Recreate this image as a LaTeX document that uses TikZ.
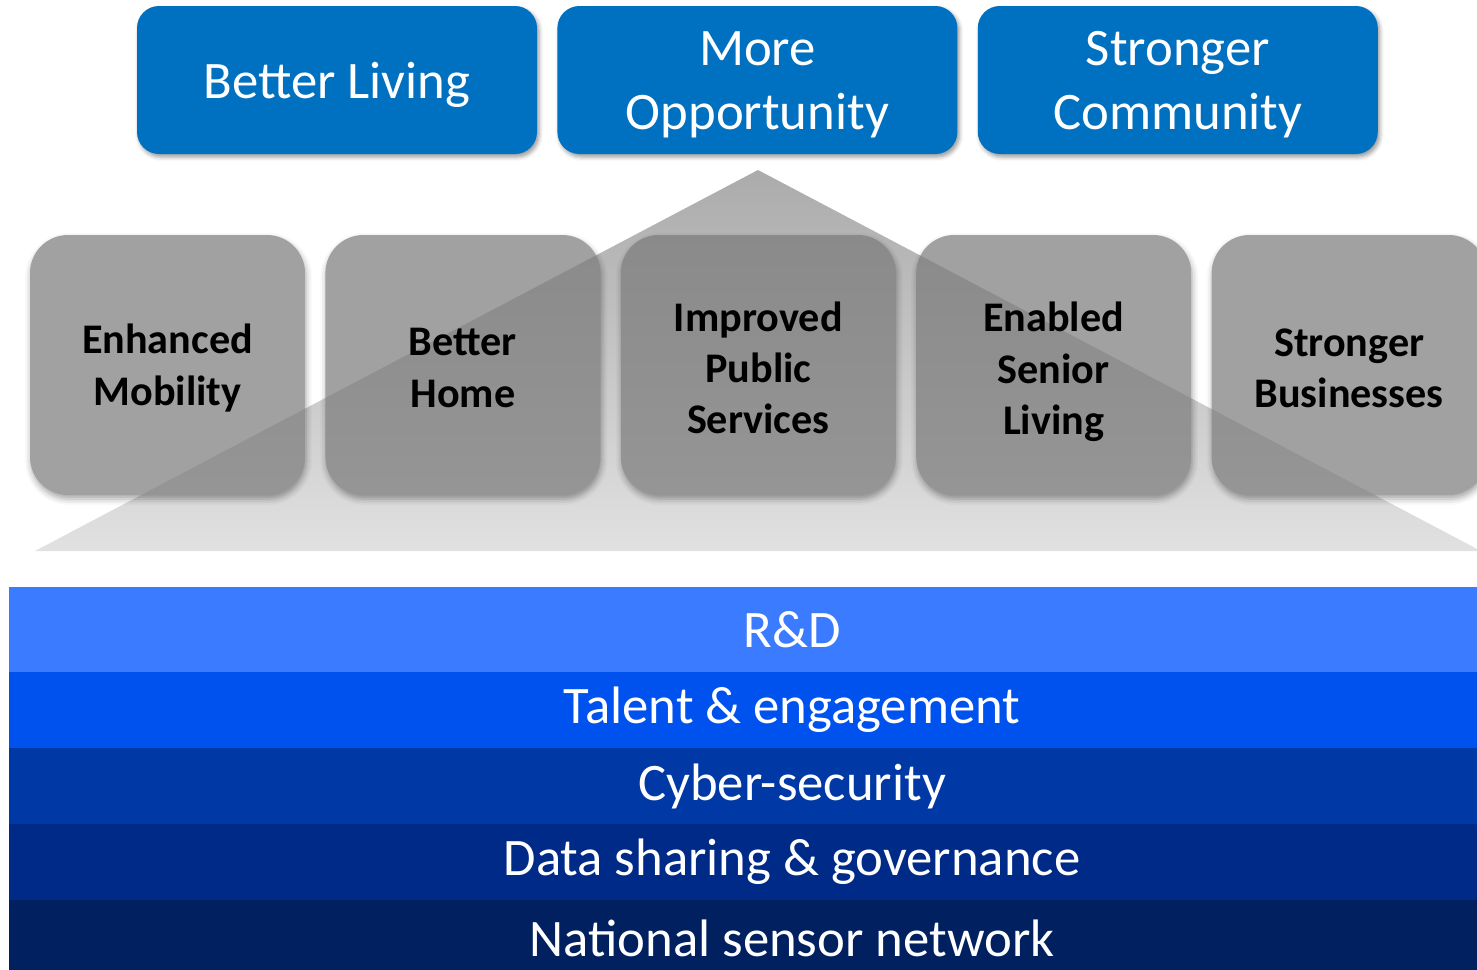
\documentclass[tikz,border=0pt]{standalone}
\usepackage{fontspec}
\setmainfont{Carlito}
\usepackage{tikz}
\usetikzlibrary{positioning, shadows.blur}
\definecolor{goalblue}{HTML}{0070C0}
\definecolor{pillargray}{HTML}{797979}
\definecolor{roofdark}{HTML}{ABABAB}
\definecolor{rooflight}{HTML}{E1E1E1}
\definecolor{layerA}{HTML}{3A7BFF}
\definecolor{layerB}{HTML}{0052EE}
\definecolor{layerC}{HTML}{0038A6}
\definecolor{layerD}{HTML}{002A87}
\definecolor{layerE}{HTML}{002060}
\tikzstyle{goal} = [rectangle, rounded corners=0.22cm, minimum width=4cm, minimum height=1.48cm, fill=goalblue, blur shadow={shadow xshift=0.02cm, shadow yshift=-0.03cm, shadow blur radius=0.04cm, shadow opacity=40}]
\tikzstyle{goaltext} = [text centered, align=center, text=white, yshift=-0.045cm, font=\fontsize{15}{18.3}\selectfont]
\tikzstyle{pillar} = [rectangle, rounded corners=0.38cm, minimum width=2.75cm, minimum height=2.6cm, fill=pillargray, blur shadow={shadow xshift=0.01cm, shadow yshift=-0.04cm, shadow blur radius=0.06cm, shadow opacity=50}]
\tikzstyle{pillartext} = [text centered, align=center, yshift=-0.03cm, font=\fontsize{12}{14.6}\selectfont\bfseries]
\tikzstyle{layer} = [rectangle, minimum width=15.66cm, minimum height=0.76cm, inner sep=0pt, outer sep=0pt, text=white, font=\fontsize{15}{18.3}\selectfont]

\begin{document}
\begin{tikzpicture}[node distance=0.19cm]
        \useasboundingbox (0,0) rectangle (14.77,-9.70);
        \clip (0,0) rectangle (14.77,-9.70);

        \node[goal]                       (living)      at (3.37,-0.80) {};
        \node[goal, right=of living]      (opportunity) {};
        \node[goal, right=of opportunity] (community)   {};
        \node[goaltext] (living text)      at (living)      {Better Living};
        \node[goaltext] (opportunity text) at (opportunity) {More\\Opportunity};
        \node[goaltext] (community text)   at (community)   {Stronger\\Community};

        % roof behind the pillars
        \shade[top color=roofdark, bottom color=rooflight] (7.58,-1.70) -- (0.35,-5.51) -- (14.81,-5.51) -- cycle;

        \begin{scope}[transparency group, opacity=0.7]
            \node[pillar]                     (mobility)   at (1.675,-3.65) {};
            \node[pillar, right=of mobility]  (home)       {};
            \node[pillar, right=of home]      (services)   {};
            \node[pillar, right=of services]  (senior)     {};
            \node[pillar, right=of senior]    (businesses) {};
        \end{scope}
        \node[pillartext] (mobility text)   at (mobility)   {Enhanced\\Mobility};
        \node[pillartext] (home text)       at (home)       {Better\\Home};
        \node[pillartext] (services text)   at (services)   {Improved\\Public\\Services};
        \node[pillartext, yshift=-0.04cm] (senior text) at (senior) {Enabled\\Senior\\Living};
        \node[pillartext] (businesses text) at (businesses) {Stronger\\Businesses};

        \node[layer, fill=layerA, minimum height=0.85cm, anchor=north west] (rnd) at (0.09,-5.87) {R\&D};
        \node[layer, fill=layerB, below=0cm of rnd]      (talent)   {Talent \& engagement};
        \node[layer, fill=layerC, below=0cm of talent]   (security) {Cyber-security};
        \node[layer, fill=layerD, below=0cm of security] (data)     {Data sharing \& governance};
        \node[layer, fill=layerE, below=0cm of data]     (sensors)  {National sensor network};
    \end{tikzpicture}
\end{document}
